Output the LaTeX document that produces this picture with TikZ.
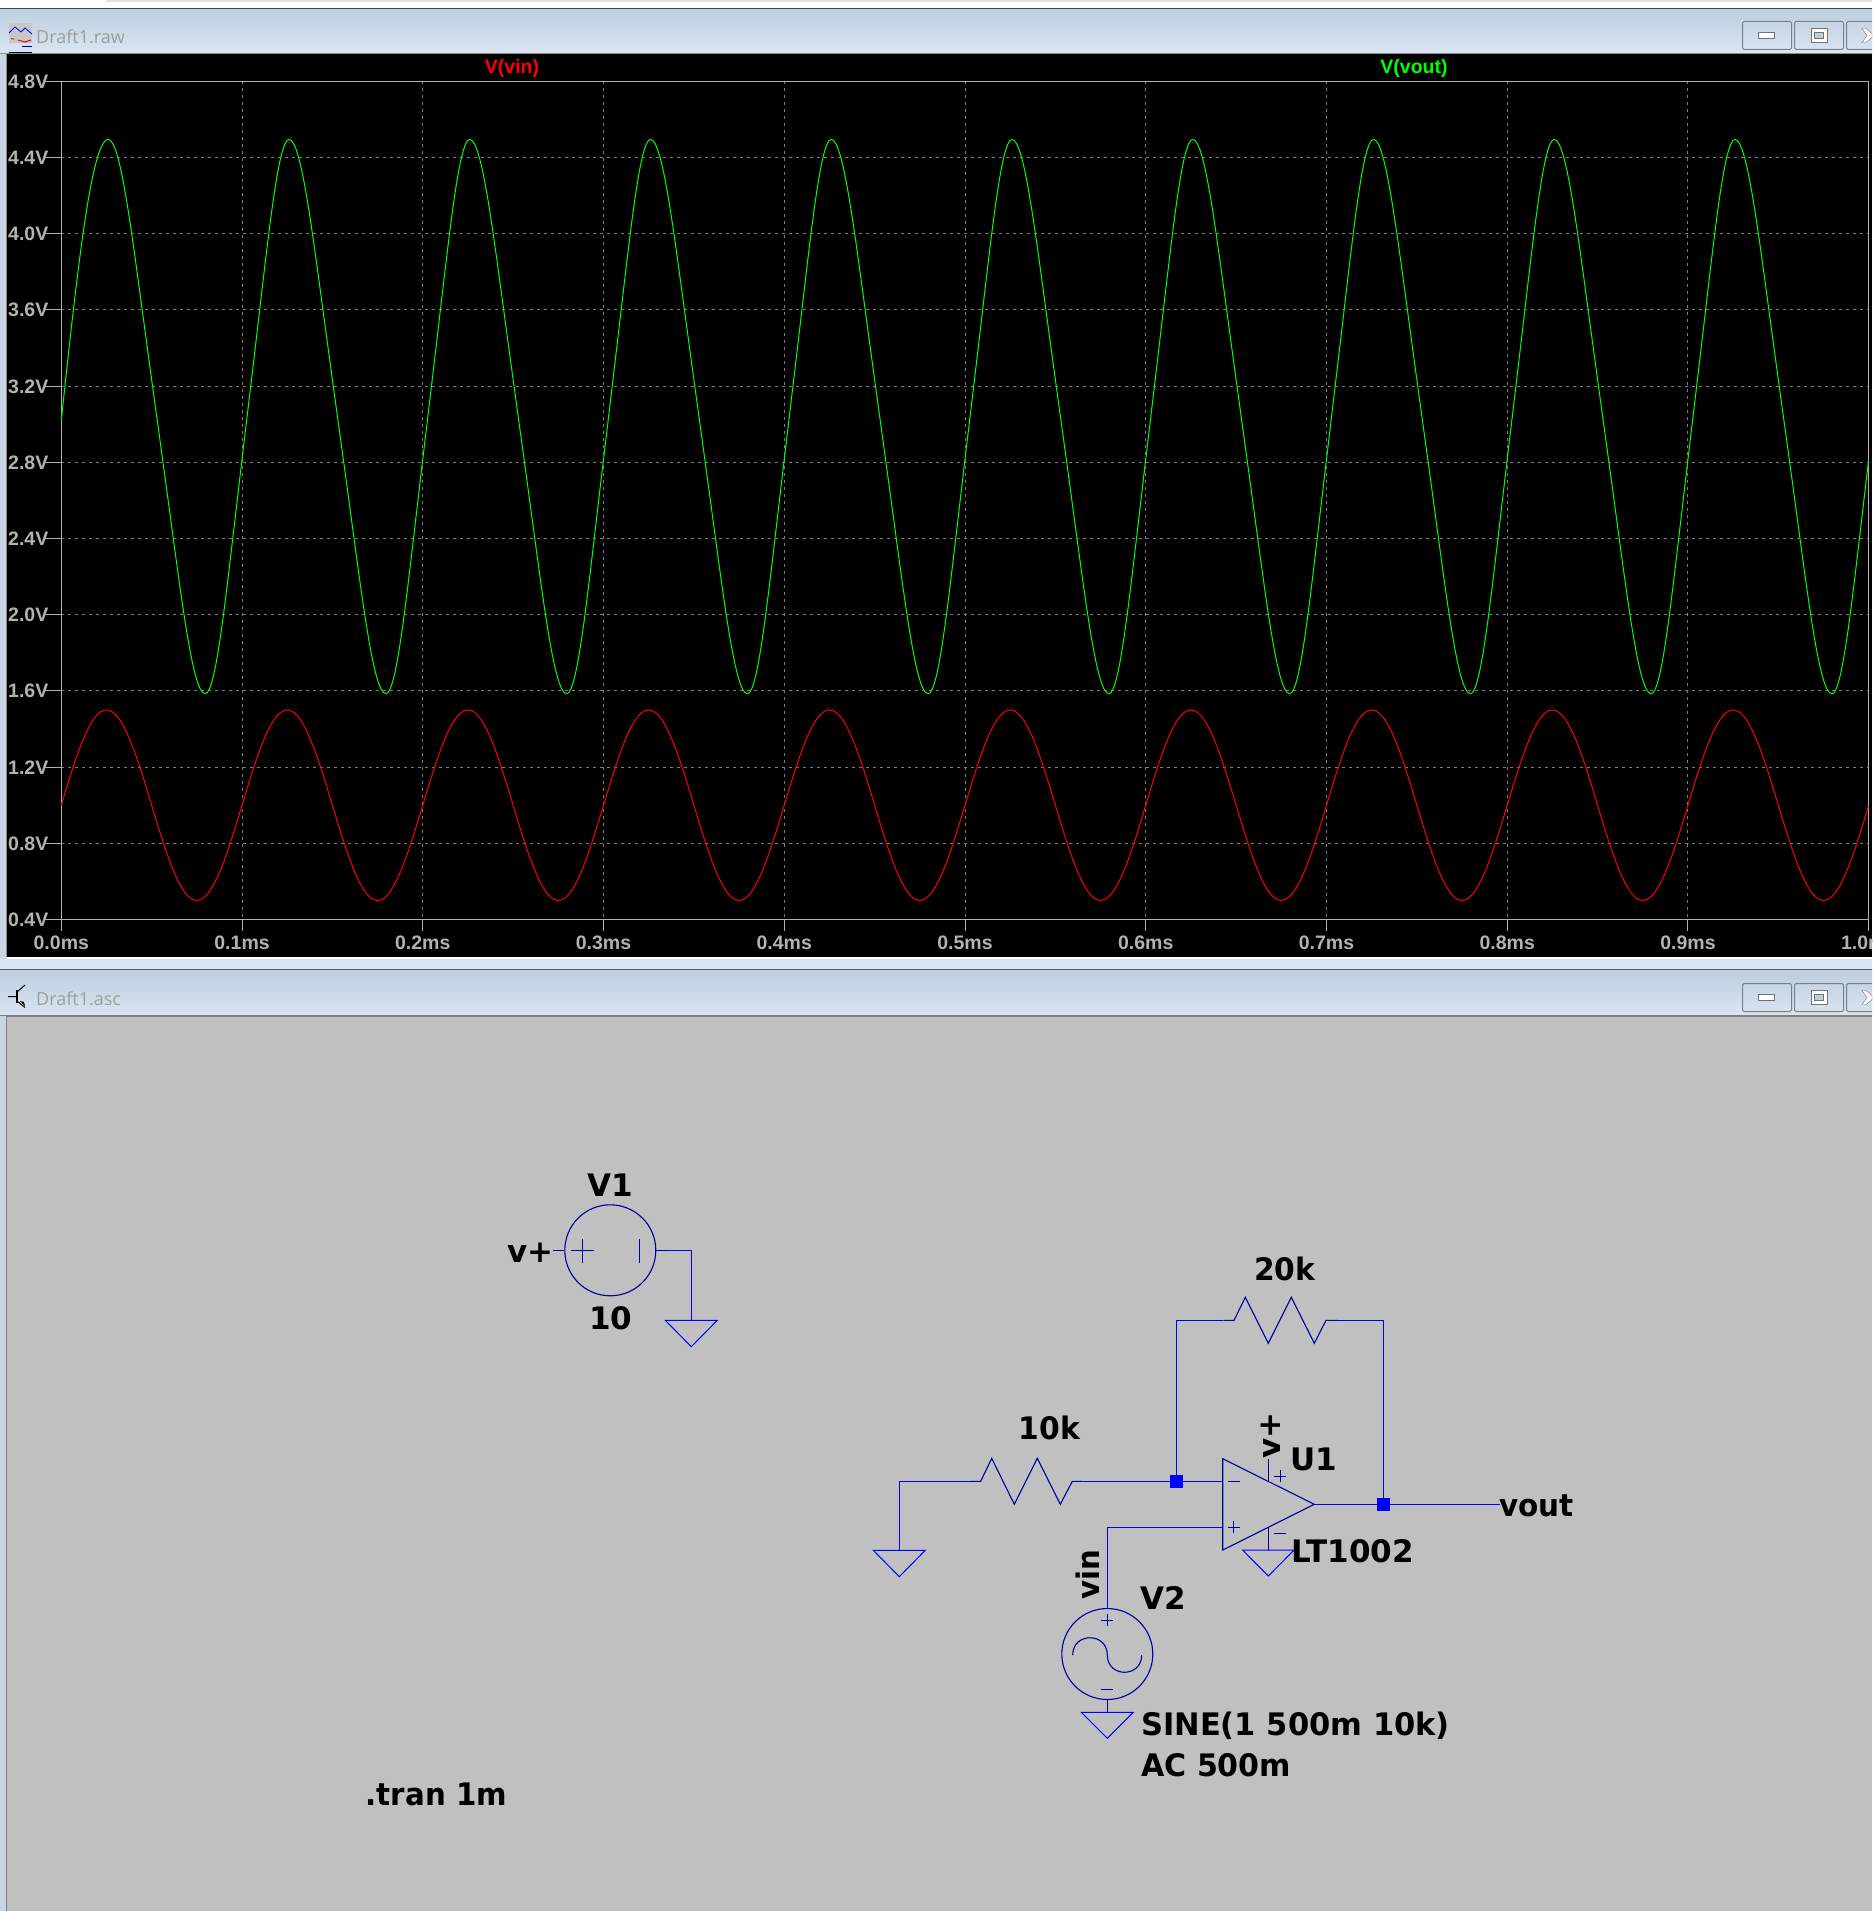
\documentclass[tikz,border=0pt]{standalone}
\usepackage{fontspec}
\usepackage{tikz}
\usepackage{xcolor}
\usetikzlibrary{shapes, positioning}
\newfontfamily\schemfont{DejaVu Sans}
\newfontfamily\plotfont{Liberation Sans}
\newfontfamily\titlefont{Open Sans}
\definecolor{wireblue}{RGB}{0,0,255}
\definecolor{partblue}{RGB}{0,0,160}
\definecolor{panelgray}{RGB}{192,192,192}
\definecolor{edgeblue}{RGB}{200,214,228}
\definecolor{bartop}{RGB}{190,206,221}
\definecolor{barbottom}{RGB}{217,229,242}
\definecolor{tickgray}{RGB}{178,178,178}
\definecolor{griddash}{RGB}{125,125,125}
\tikzset{
    schemtext/.style={inner sep=0pt, text=black, font=\schemfont\bfseries\fontsize{31}{31}\selectfont, anchor=base west},
    squeeze/.style={transform shape, xscale=#1},
    ticklabel/.style={inner sep=0pt, text=tickgray, font=\plotfont\bfseries\fontsize{19.5}{19.5}\selectfont, anchor=base},
    tracelabel/.style={inner sep=0pt, font=\plotfont\bfseries\fontsize{19.5}{19.5}\selectfont, anchor=base},
    wintitle/.style={inner sep=0pt, text=black!38, font=\titlefont\fontsize{18}{18}\selectfont, anchor=base west},
    wire/.style={wireblue, line width=1.4pt},
    part/.style={partblue, line width=1.1pt},
    gnd/.style={wireblue, line width=1pt},
    vsource/.style={circle, draw=partblue, line width=1.1pt, minimum size=91pt, inner sep=0pt},
    junction/.style={rectangle, fill=wireblue, minimum size=13pt, inner sep=0pt},
    gridline/.style={griddash, line width=1pt, dash pattern=on 3pt off 4pt},
    axisline/.style={tickgray, line width=1pt},
    winbutton/.style={rectangle, rounded corners=1.5pt, draw=black!40!edgeblue, line width=1pt, minimum width=49pt, minimum height=28pt, inner sep=0pt},
}
\begin{document}
\begin{tikzpicture}[x=1pt, y=-1pt]
    \useasboundingbox (0,0) rectangle (1872,1911);
    \begin{scope}
    \clip (0,0) rectangle (1872,1911);

    % window frames
    \fill[white] (0,0) rectangle (1872,8);
    \fill[black!12] (106,0) rectangle (1872,2);
    \fill[edgeblue] (0,9) rectangle (7,1911);
    \shade[top color=bartop, bottom color=barbottom] (0,9) rectangle (1872,53);
    \fill[black!72] (0,8) rectangle (1872,9.3);
    \fill[black!45] (0,53) rectangle (1872,54);
    \fill[black!45] (6,54) rectangle (7,957);
    \fill[black] (7,54) rectangle (1872,957);
    \fill[white] (7,957) rectangle (1872,959);
    \fill[barbottom] (0,959) rectangle (1872,969);
    \fill[black!65] (0,969) rectangle (1872,970.5);
    \shade[top color=bartop, bottom color=barbottom] (0,970.5) rectangle (1872,1015);
    \fill[black!50] (6,1015) rectangle (1872,1017);
    \fill[black!50] (0,1015) rectangle (7,1016);
    \fill[black!50] (6,1017) rectangle (7,1911);
    \fill[panelgray] (7,1017) rectangle (1872,1911);

    % title bars
    \node[wintitle] (rawtitle) at (36,44) {Draft1.raw};
    \node[wintitle] (asctitle) at (36,1005.5) {Draft1.asc};
    \foreach \by in {35.5, 997.5} {
        \node[winbutton] at (1767,\by) {};
        \node[winbutton] at (1819,\by) {};
        \node[winbutton, minimum width=52pt] at (1872.5,\by) {};
        \fill[white, draw=black!55] (1758.5,\by-3) rectangle (1774.5,\by+3);
        \fill[white, draw=black!55] (1811,\by-7) rectangle (1827,\by+7);
        \draw[black!55, fill=bartop] (1814.5,\by-3) rectangle (1823.5,\by+3);
        \fill[white, draw=black!55] (1862,\by-7) -- (1866,\by-7) -- (1872,\by-2) -- (1872,\by+2) -- (1866,\by+7) -- (1862,\by+7) -- (1867,\by) -- cycle;
    }

    % waveform icon
    \fill[black!22] (8.5,23) rectangle (32,43);
    \draw[blue, line width=0.8pt] (9,33) -- (15,27) -- (21,32) -- (25,28) -- (32,34);
    \draw[red, line width=1pt] (11,39) -- (14,39) (18,40) -- (25,42) -- (31,40);
    \draw[black] (8.5,52) -- (32,52);
    \draw[blue!60!black] (22,46) -- (32,46);
    % transistor icon
    \draw[black, line width=1pt] (8,996.7) -- (16,996.7) (17,992) -- (25,985) (17,1001) -- (25,1007.5);
    \draw[black, line width=2pt] (17,990) -- (17,1003);
    \fill[black] (25,1006) -- (20,1001) -- (24,1002) -- cycle;

    % plot grid
    \foreach \n in {1,...,10} {
        \draw[gridline] (61.3,{81.3+76.2*\n}) -- (1868.7,{81.3+76.2*\n});
    }
    \foreach \n in {1,...,9} {
        \draw[gridline] ({61.3+180.74*\n},81.3) -- ({61.3+180.74*\n},919.3);
    }
    \draw[axisline] (61.3,81.3) rectangle (1868.7,919.3);
    \foreach \n/\lab in {0/4.8V,1/4.4V,2/4.0V,3/3.6V,4/3.2V,5/2.8V,6/2.4V,7/2.0V,8/1.6V,9/1.2V,10/0.8V,11/0.4V} {
        \draw[axisline] (44,{81.3+76.2*\n}) -- (61.3,{81.3+76.2*\n});
        \node[ticklabel, anchor=base west] at (8,{88.3+76.2*\n}) {\lab};
    }
    \foreach \n/\lab in {0/0.0ms,1/0.1ms,2/0.2ms,3/0.3ms,4/0.4ms,5/0.5ms,6/0.6ms,7/0.7ms,8/0.8ms,9/0.9ms,10/1.0ms} {
        \draw[axisline] ({61.3+180.74*\n},919.3) -- ({61.3+180.74*\n},930.7);
        \node[ticklabel] at ({61.3+180.74*\n},949.3) {\lab};
    }
    \node[tracelabel, text=red] (vinlabel) at (512,73.5) {V(vin)};
    \node[tracelabel, text=green] (voutlabel) at (1414,73.5) {V(vout)};

    % traces
    \draw[red, line width=1pt] plot[domain=0:10, samples=500, smooth] ({61.3+180.74*\x},{81.3+190.5*(3.8-0.5*sin(360*\x))});
    \draw[green, line width=1pt] plot[domain=0:0.26, samples=20] ({61.3+180.74*\x},{81.3+190.5*(1.78-1.476*sin(90*\x/0.26))});
    \foreach \k in {0,...,9} {
        \pgfmathsetmacro\ta{\k+0.26}
        \pgfmathsetmacro\tb{\k+0.796}
        \pgfmathsetmacro\tc{min(\k+1.26,10)}
        \draw[green, line width=1pt] plot[domain=\ta:\tb, samples=40] ({61.3+180.74*\x},{81.3+190.5*(1.76-1.455*(cos(180*(\x-\ta)/0.536)+0.05*cos(540*(\x-\ta)/0.536))/1.05)});
        \draw[green, line width=1pt] plot[domain=\tb:\tc, samples=40] ({61.3+180.74*\x},{81.3+190.5*(1.76+1.455*(cos(180*(\x-\tb)/0.464)+0.05*cos(540*(\x-\tb)/0.464))/1.05)});
    }

    % V1
    \node[vsource] (vone) at (610.3,1250.3) {};
    \coordinate (vonel) at (553.3,1250.3);
    \coordinate (vonem) at (668,1250.3);
    \coordinate (vonec) at (691.3,1250.3);
    \coordinate (voneg) at (691.3,1320.3);
    \draw[part] (vonel) -- (vone.west);
    \draw[part] (vone.east) -- (vonem);
    \draw[wire] (vonem) -- (vonec) -- (voneg);
    \draw[gnd] (voneg) ++(-26,0) -- ++(52,0) -- ++(-26,26.4) -- cycle;
    \draw[part] (570.7,1250.3) -- (594,1250.3) (582.3,1239) -- (582.3,1262.7) (639.3,1239) -- (639.3,1262.7);
    \node[schemtext, anchor=base] at (610.5,1196.7) {V1};
    \node[schemtext] at (507,1262.7) {v+};
    \node[schemtext, anchor=base] at (610.7,1329.5) {10};

    % op amp
    \coordinate (ampa) at (1222.7,1458.7);
    \coordinate (ampb) at (1222.7,1550);
    \coordinate (ampo) at (1314.3,1504.3);
    \coordinate (ampn) at (1222.7,1481.3);
    \coordinate (ampp) at (1222.7,1527.3);
    \draw[part] (ampa) -- (ampb) -- (ampo) -- cycle;
    \draw[part] (1268.3,1458.7) -- (1268.3,1481.3);
    \draw[part] (1268.3,1526.7) -- (1268.3,1550);
    \draw[part, line width=0.8pt] (1227.7,1481.3) -- (1240,1481.3) (1227.7,1527.3) -- (1239.7,1527.3) (1233.7,1521.3) -- (1233.7,1533.3);
    \draw[part, line width=0.8pt] (1274,1476) -- (1286,1476) (1280,1470) -- (1280,1482) (1274,1533.3) -- (1286,1533.3);
    \coordinate (ampg) at (1268.3,1550);
    \draw[gnd] (ampg) ++(-25.8,0) -- ++(51.6,0) -- ++(-25.8,26) -- cycle;
    \node[schemtext] at (1290,1470.7) {U1};
    \node[schemtext] at (1291.5,1562.3) {LT1002};
    \node[schemtext, rotate=90] at (1280,1458.5) {v+};

    % junctions and wires
    \node[junction] (jneg) at (1176.3,1481.3) {};
    \node[junction] (jout) at (1383.3,1504.3) {};
    \coordinate (voutend) at (1500,1504.3);
    \coordinate (fbl) at (1176.3,1320.3);
    \coordinate (fbr) at (1383.3,1320.3);
    \coordinate (rfa) at (1223.3,1320.3);
    \coordinate (rfb) at (1337.3,1320.3);
    \coordinate (rga) at (970,1481.3);
    \coordinate (rgb) at (1082.7,1481.3);
    \coordinate (gl) at (899.3,1481.3);
    \coordinate (gb) at (899.3,1550.3);
    \draw[wire] (ampn) -- (jneg) -- (rgb);
    \draw[wire] (jneg) -- (fbl) -- (rfa);
    \draw[wire] (rfb) -- (fbr) -- (jout);
    \draw[wire] (ampo) -- (jout) -- (voutend);
    \draw[wire] (rga) -- (gl) -- (gb);
    \draw[gnd] (gb) ++(-26,0) -- ++(52,0) -- ++(-26,26.4) -- cycle;

    % resistors
    \draw[part] (rfa) -- (1234,1320.3) -- (1245.3,1297.3) -- (1268.3,1343.3) -- (1291.3,1297.3) -- (1314.3,1343.3) -- (1326,1320.3) -- (rfb);
    \draw[part] (rga) -- (980.7,1481.3) -- (991.7,1458.3) -- (1014.3,1504.3) -- (1037.3,1458.3) -- (1060.3,1504.3) -- (1072.3,1481.3) -- (rgb);
    \node[schemtext, squeeze=0.96] at (1254,1280.7) {20k};
    \node[schemtext, squeeze=0.96] at (1018.5,1439) {10k};
    \node[schemtext, squeeze=0.95] at (1499,1516) {vout};

    % V2
    \node[vsource] (vtwo) at (1107.3,1654) {};
    \coordinate (vinc) at (1107.3,1527.3);
    \coordinate (vtwog) at (1107.3,1712.3);
    \draw[wire] (ampp) -- (vinc) -- (vtwo.north);
    \draw[part] (vtwo.south) -- (vtwog);
    \draw[gnd] (vtwog) ++(-26,0) -- ++(52,0) -- ++(-26,26) -- cycle;
    \draw[part, line width=0.8pt] (1101.3,1620.3) -- (1113.3,1620.3) (1107.3,1614.3) -- (1107.3,1626.3) (1101.3,1689.3) -- (1113,1689.3);
    \draw[part] (1072.7,1655) .. controls (1072.7,1632) and (1107.3,1632) .. (1107.3,1655) .. controls (1107.3,1678) and (1141.7,1678) .. (1141.7,1655);
    \node[schemtext, rotate=90, squeeze=0.94] at (1099.3,1600) {vin};
    \node[schemtext] at (1140.5,1609.3) {V2};
    \node[schemtext, squeeze=0.985] at (1141,1735) {SINE(1 500m 10k)};
    \node[schemtext, squeeze=0.97] at (1141,1776) {AC 500m};
    \node[schemtext, squeeze=0.945] at (365.6,1805.7) {.tran 1m};
    \end{scope}
\end{tikzpicture}
\end{document}
